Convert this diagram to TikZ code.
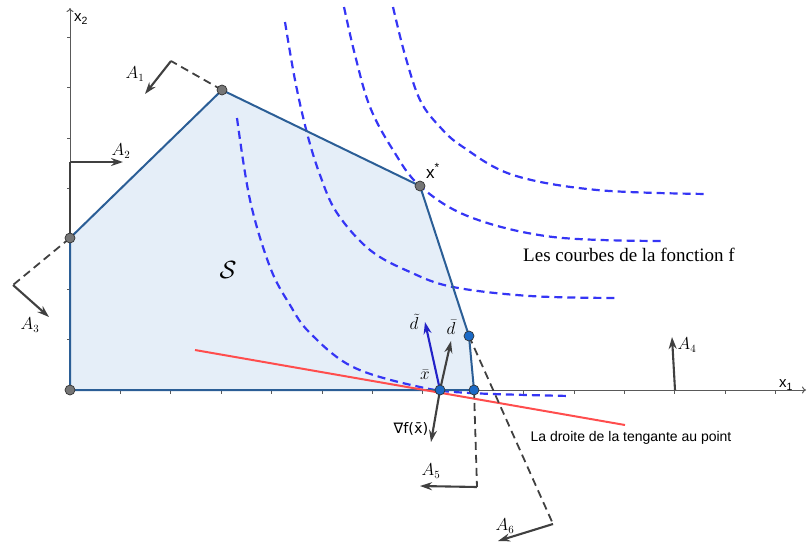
\documentclass[tikz,border=0pt]{standalone}
\usepackage{fontspec}
\setsansfont{Liberation Sans}
\newfontfamily\timesf{Liberation Serif}
\newfontfamily\dejavu{DejaVu Sans}
\usetikzlibrary{arrows.meta}
\definecolor{polyedge}{HTML}{2B5E96}
\definecolor{polyfill}{HTML}{E5EEF8}
\definecolor{curveblue}{HTML}{3535F5}
\definecolor{redline}{HTML}{FF4D4D}
\definecolor{vecgray}{HTML}{404040}
\definecolor{ptgray}{HTML}{767676}
\definecolor{ptblue}{HTML}{1B6AC6}
\definecolor{dtildec}{HTML}{2222C8}
\begin{document}
\begin{tikzpicture}[x=1pt,y=-1pt,
  axisline/.style={draw=black!65, line width=1pt},
  lvl/.style={draw=curveblue, line width=2.2pt, dash pattern=on 8pt off 5pt},
  cons/.style={draw=vecgray, line width=1.8pt, dash pattern=on 8pt off 5pt},
  vec/.style={draw=vecgray, line width=2.1pt, -{Stealth[length=12pt,width=8pt]}},
  ptg/.style={circle, fill=ptgray, draw=black!80, line width=0.7pt, inner sep=0pt, minimum size=10pt},
  ptb/.style={circle, fill=ptblue, draw=black!80, line width=0.7pt, inner sep=0pt, minimum size=10pt},
  alab/.style={inner sep=0pt, font=\fontsize{16}{18}\selectfont},
  mlab/.style={inner sep=0pt, font=\fontsize{19}{21}\selectfont},
]
\useasboundingbox (0,0) rectangle (808,544);
% coordinates
\coordinate (O) at (70,390);
\coordinate (P2) at (70,238);
\coordinate (P3) at (222,90);
\coordinate (P4) at (420,186);
\coordinate (P5) at (469,336);
\coordinate (P6) at (474,390);
\coordinate (XB) at (440,390);
% polygon fill
\fill[polyfill] (O) -- (P2) -- (P3) -- (P4) -- (P5) -- (P6) -- cycle;
% axes
\coordinate (Xend) at (806,390);
\coordinate (Yend) at (70,8);
\draw[axisline, -{To[length=4pt,width=7pt]}] (O) -- (Xend);
\draw[axisline, -{To[length=4pt,width=7pt]}] (O) -- (Yend);
\foreach \k in {1,...,14} \draw[axisline] (70+50.4*\k,390) -- ++(0,3.5);
\foreach \k in {1,...,7} \draw[axisline] (70,390-50.4*\k) -- ++(-3.5,0);
\node[inner sep=0pt, font=\sffamily\fontsize{15}{17}\selectfont] (x2lab) at (81,19) {x\textsubscript{2}};
\node[inner sep=0pt, font=\sffamily\fontsize{15}{17}\selectfont] (x1lab) at (786,385) {x\textsubscript{1}};
% level curves
\draw[lvl] plot[smooth, tension=0.6] coordinates {(237,118) (250,200) (270,267) (290,305) (310,333) (353,367) (420,387) (470,393) (570,396)};
\draw[lvl] plot[smooth, tension=0.6] coordinates {(285,22) (295,80) (307,133) (320,175) (337,213) (370,250) (410,272) (453,287) (530,296) (617,298)};
\draw[lvl] plot[smooth, tension=0.6] coordinates {(344,7) (355,55) (370,107) (393,150) (420,186) (470,217) (553,237) (663,241)};
\draw[lvl] plot[smooth, tension=0.6] coordinates {(393,7) (405,55) (420,100) (440,127) (463,147) (513,175) (597,190) (708,194)};
% polygon edges
\draw[polyedge, line width=2pt, line join=round] (O) -- (P2) -- (P3) -- (P4) -- (P5) -- (P6) -- cycle;
% tangent line
\coordinate (R1) at (195,350);
\coordinate (R2) at (625,425);
\draw[redline, line width=2pt] (R1) -- (R2);
% constraints
\coordinate (C1) at (171,61);
\coordinate (T1) at (145,94);
\draw[cons] (P3) -- (C1);
\draw[vec] (C1) -- (T1);
\coordinate (C2) at (70,162);
\coordinate (T2) at (123,162);
\draw[draw=vecgray, line width=1.8pt] (P2) -- (C2);
\draw[vec] (C2) -- (T2);
\coordinate (C3) at (13,285);
\coordinate (T3) at (49,317);
\draw[cons] (P2) -- (C3);
\draw[vec] (C3) -- (T3);
\coordinate (C4) at (675,390);
\coordinate (T4) at (672,337);
\draw[vec] (C4) -- (T4);
\coordinate (C5) at (477,487);
\coordinate (T5) at (420,486);
\draw[cons] (P6) -- (C5);
\draw[vec] (C5) -- (T5);
\coordinate (C6) at (553,524);
\coordinate (T6) at (498,541);
\draw[cons] (P5) -- (C6);
\draw[vec] (C6) -- (T6);
% vectors at xbar
\coordinate (DT) at (425,322);
\coordinate (DB) at (451,341);
\coordinate (GF) at (431,442);
\draw[vec, draw=dtildec] (XB) -- (DT);
\draw[vec] (XB) -- (DB);
\draw[vec] (XB) -- (GF);
% points
\node[ptg] (nO) at (O) {};
\node[ptg] (n2) at (P2) {};
\node[ptg] (n3) at (P3) {};
\node[ptg] (n4) at (P4) {};
\node[ptb] (n5) at (P5) {};
\node[ptb] (n6) at (P6) {};
\node[ptb] (nXB) at (XB) {};
% labels
\node[alab] (lA1) at (135,74) {$A_1$};
\node[alab] (lA2) at (121,151) {$A_2$};
\node[alab] (lA3) at (30,325) {$A_3$};
\node[alab] (lA4) at (687,345) {$A_4$};
\node[alab] (lA5) at (431,471) {$A_5$};
\node[alab] (lA6) at (505,526) {$A_6$};
\node[mlab] (ldt) at (414,322) {$\tilde{d}$};
\node[mlab] (ldb) at (451,327) {$\bar{d}$};
\node[mlab] (lxb) at (425,375) {$\bar{x}$};
\node[inner sep=0pt, font=\dejavu\fontsize{14.5}{16}\selectfont] (lgf) at (411,429) {∇f(x^^^^0304)};
\node[inner sep=0pt, font=\sffamily\fontsize{17}{19}\selectfont] (lxs) at (433,171) {x\textsuperscript{*}};
\node[inner sep=0pt, font=\fontsize{34}{36}\selectfont] (lS) at (228,270) {$\mathcal{S}$};
\node[inner sep=0pt, font=\timesf\fontsize{19}{21}\selectfont] (lcourbes) at (629,255) {Les courbes de la fonction f};
\node[inner sep=0pt, font=\sffamily\fontsize{14}{16}\selectfont] (ldroite) at (631,438) {La droite de la tengante au point};
\end{tikzpicture}
\end{document}
